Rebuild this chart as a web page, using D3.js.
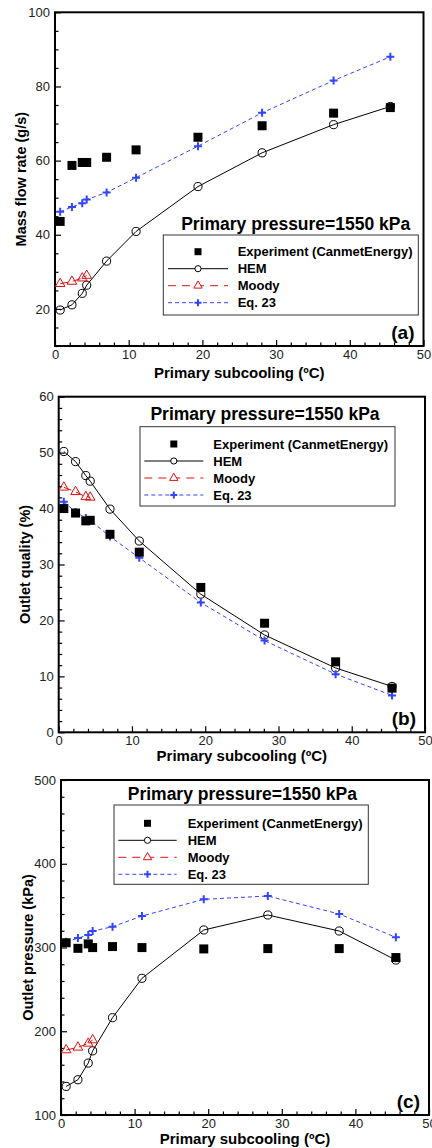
<!DOCTYPE html>
<html>
<head>
<meta charset="utf-8">
<script src="https://cdn.jsdelivr.net/npm/d3@7"></script>
<style>
  body { margin: 0; background: #fff; }
  svg text { font-family: "Liberation Sans", Arial, sans-serif; }
</style>
</head>
<body>
<svg id="chart" width="432" height="1148"></svg>
<script>
// Primary subcooling (ºC) of the test points
const subcooling = [0.7, 2.3, 3.7, 4.3, 7.0, 11.0, 19.4, 28.1, 37.8, 45.5];
const moodySubcooling = [0.7, 2.3, 3.7, 4.3];

// (a) Mass flow rate (g/s)
const flowExp   = [43.6, 58.7, 59.5, 59.5, 60.9, 62.9, 66.3, 69.4, 72.8, 74.3];
const flowHem   = [19.7, 21.1, 24.2, 26.4, 32.9, 40.9, 53.0, 62.1, 69.7, 74.6];
const flowMoody = [26.8, 27.4, 28.3, 29.0];
const flowEq23  = [46.2, 47.5, 48.5, 49.5, 51.4, 55.4, 63.9, 72.9, 81.6, 88.0];

// (b) Outlet quality (%)
const qualExp   = [40.0, 39.2, 37.8, 37.9, 35.4, 32.2, 25.9, 19.5, 12.6, 7.9];
const qualHem   = [50.2, 48.4, 45.9, 44.9, 39.9, 34.2, 24.7, 17.4, 11.5, 8.2];
const qualMoody = [43.8, 43.0, 42.1, 42.0];
const qualEq23  = [41.2, 39.4, 38.3, 37.9, 35.0, 31.2, 23.2, 16.4, 10.4, 6.6];

// (c) Outlet pressure (kPa)
const presExp   = [305.7, 299, 304.3, 299.9, 301.1, 299.9, 298.3, 298.7, 298.7, 288];
const presHem   = [134.1, 142.1, 162.0, 176.6, 216.2, 263.2, 320.9, 338.8, 319.7, 285];
const presMoody = [177.6, 180.8, 185.5, 189.5];
const presEq23  = [306.8, 311.2, 314.8, 319.6, 324.8, 337.6, 357.5, 361.5, 340.0, 312.2];

const legendNames = ['Experiment (CanmetEnergy)', 'HEM', 'Moody', 'Eq. 23'];
const titleText = 'Primary pressure=1550 kPa';
const xTitle = 'Primary subcooling (ºC)';

const blue = '#3344ff';
const red = '#dd1111';

const svg = d3.select('#chart');

const panels = [
  {
    left: 55, right: 423.5, top: 12.3, bottom: 346,
    yDomain: [10, 100], yMajor: d3.range(20, 101, 20), yMinor: d3.range(10, 101, 5),
    yTitle: 'Mass flow rate (g/s)', yTitleX: 21,
    tag: '(a)', exp: flowExp, hem: flowHem, moody: flowMoody, eq: flowEq23,
    title: { x: 295.7, y: 223.5 },
    legend: { x: 163.3, y: 235, w: 255, h: 80, textX: 237.7, lineX0: 168, lineX1: 228, rowY: 251.7 },
    xTitleY: 372
  },
  {
    left: 58.7, right: 425, top: 396.7, bottom: 732.3,
    yDomain: [0, 60], yMajor: d3.range(0, 61, 10), yMinor: d3.range(0, 61, 2),
    yTitle: 'Outlet quality (%)', yTitleX: 25,
    tag: '(b)', exp: qualExp, hem: qualHem, moody: qualMoody, eq: qualEq23,
    title: { x: 265, y: 413.5 },
    legend: { x: 140, y: 426.7, w: 255, h: 79.3, textX: 213.3, lineX0: 144.3, lineX1: 203.3, rowY: 444 },
    xTitleY: 755
  },
  {
    left: 61, right: 429, top: 780, bottom: 1115,
    yDomain: [100, 500], yMajor: d3.range(100, 501, 100), yMinor: d3.range(100, 501, 20),
    yTitle: 'Outlet pressure (kPa)', yTitleX: 27.5,
    tag: '(c)', exp: presExp, hem: presHem, moody: presMoody, eq: presEq23,
    title: { x: 242.3, y: 793.5 },
    legend: { x: 114, y: 805, w: 254.3, h: 79.3, textX: 187.7, lineX0: 118.3, lineX1: 176.7, rowY: 823.3 },
    xTitleY: 1138.5
  }
];

const squareSym = d3.symbol().type(d3.symbolSquare);
const circleSym = d3.symbol().type(d3.symbolCircle);
const triSym = d3.symbol().type(d3.symbolTriangle);
const plusPath = (s) => `M${-s},0H${s}M0,${-s}V${s}`;

function drawPanel(p) {
  const x = d3.scaleLinear().domain([0, 50]).range([p.left, p.right]);
  const y = d3.scaleLinear().domain(p.yDomain).range([p.bottom, p.top]);
  const g = svg.append('g');

  // Axes with inward ticks
  const xMajor = d3.range(0, 51, 10);
  const xMinor = d3.range(0, 51, 2).filter(v => v % 10 !== 0);

  g.append('g')
    .attr('transform', `translate(0,${p.bottom})`)
    .call(d3.axisBottom(x).tickValues(xMajor).tickSize(-6).tickSizeOuter(0).tickPadding(3.5));
  g.append('g')
    .attr('transform', `translate(0,${p.bottom})`)
    .call(d3.axisBottom(x).tickValues(xMinor).tickSize(-3.5).tickFormat('').tickSizeOuter(0));

  const yMinor = p.yMinor.filter(v => !p.yMajor.includes(v));
  g.append('g')
    .attr('transform', `translate(${p.left},0)`)
    .call(d3.axisLeft(y).tickValues(p.yMajor).tickSize(-6).tickSizeOuter(0).tickPadding(5));
  g.append('g')
    .attr('transform', `translate(${p.left},0)`)
    .call(d3.axisLeft(y).tickValues(yMinor).tickSize(-3.5).tickFormat('').tickSizeOuter(0));

  g.selectAll('.domain').remove();
  g.selectAll('.tick line').attr('stroke', '#000').attr('stroke-width', 1.2);
  g.selectAll('.tick text')
    .attr('fill', '#222')
    .style('font-size', '13px');

  // Frame
  g.append('rect')
    .attr('x', p.left).attr('y', p.top)
    .attr('width', p.right - p.left).attr('height', p.bottom - p.top)
    .attr('fill', 'none').attr('stroke', '#000').attr('stroke-width', 2);

  const line = d3.line().x((d) => x(d[0])).y((d) => y(d[1]));
  const pairs = (xs, ys) => xs.map((v, i) => [v, ys[i]]);

  const hemData = pairs(subcooling, p.hem);
  const moodyData = pairs(moodySubcooling, p.moody);
  const eqData = pairs(subcooling, p.eq);
  const expData = pairs(subcooling, p.exp);

  // Lines
  g.append('path').attr('d', line(eqData))
    .attr('fill', 'none').attr('stroke', blue).attr('stroke-width', 1).attr('stroke-dasharray', '4,3');
  g.append('path').attr('d', line(moodyData))
    .attr('fill', 'none').attr('stroke', red).attr('stroke-width', 1).attr('stroke-dasharray', '8,5');
  g.append('path').attr('d', line(hemData))
    .attr('fill', 'none').attr('stroke', '#000').attr('stroke-width', 1);

  // Markers
  g.selectAll('path.hem').data(hemData).enter().append('path')
    .attr('class', 'hem')
    .attr('d', circleSym.size(52)())
    .attr('transform', (d) => `translate(${x(d[0])},${y(d[1])})`)
    .attr('fill', 'none').attr('stroke', '#000').attr('stroke-width', 1);

  g.selectAll('path.moody').data(moodyData).enter().append('path')
    .attr('class', 'moody')
    .attr('d', triSym.size(40)())
    .attr('transform', (d) => `translate(${x(d[0])},${y(d[1])})`)
    .attr('fill', 'none').attr('stroke', red).attr('stroke-width', 1);

  g.selectAll('path.eq').data(eqData).enter().append('path')
    .attr('class', 'eq')
    .attr('d', plusPath(4))
    .attr('transform', (d) => `translate(${x(d[0])},${y(d[1])})`)
    .attr('fill', 'none').attr('stroke', blue).attr('stroke-width', 2);

  g.selectAll('path.exp').data(expData).enter().append('path')
    .attr('class', 'exp')
    .attr('d', squareSym.size(81)())
    .attr('transform', (d) => `translate(${x(d[0])},${y(d[1])})`)
    .attr('fill', '#000');

  // Title
  g.append('text')
    .attr('x', p.title.x).attr('y', p.title.y)
    .attr('text-anchor', 'middle').attr('dominant-baseline', 'central')
    .style('font-size', '17.5px').style('font-weight', 'bold')
    .text(titleText);

  // Legend
  const L = p.legend;
  const lg = g.append('g');
  lg.append('rect')
    .attr('x', L.x).attr('y', L.y).attr('width', L.w).attr('height', L.h)
    .attr('fill', '#fff').attr('stroke', '#333').attr('stroke-width', 1);
  const rowStep = 17;
  const midX = (L.lineX0 + L.lineX1) / 2;
  legendNames.forEach((name, i) => {
    const ry = L.rowY + i * rowStep;
    if (i === 0) {
      lg.append('path').attr('d', squareSym.size(49)())
        .attr('transform', `translate(${midX},${ry})`).attr('fill', '#000');
    } else if (i === 1) {
      lg.append('line').attr('x1', L.lineX0).attr('x2', L.lineX1).attr('y1', ry).attr('y2', ry)
        .attr('stroke', '#000').attr('stroke-width', 1);
      lg.append('path').attr('d', circleSym.size(30)())
        .attr('transform', `translate(${midX},${ry})`)
        .attr('fill', '#fff').attr('stroke', '#000');
    } else if (i === 2) {
      lg.append('line').attr('x1', L.lineX0).attr('x2', L.lineX1).attr('y1', ry).attr('y2', ry)
        .attr('stroke', red).attr('stroke-width', 1).attr('stroke-dasharray', '8,6');
      lg.append('path').attr('d', triSym.size(30)())
        .attr('transform', `translate(${midX},${ry})`)
        .attr('fill', '#fff').attr('stroke', red);
    } else {
      lg.append('line').attr('x1', L.lineX0).attr('x2', L.lineX1).attr('y1', ry).attr('y2', ry)
        .attr('stroke', blue).attr('stroke-width', 1).attr('stroke-dasharray', '4,3');
      lg.append('path').attr('d', plusPath(3.5))
        .attr('transform', `translate(${midX},${ry})`)
        .attr('stroke', blue).attr('stroke-width', 2);
    }
    lg.append('text')
      .attr('x', L.textX).attr('y', ry)
      .attr('dominant-baseline', 'central')
      .style('font-size', '13px').style('font-weight', 'bold')
      .text(name);
  });

  // Panel tag
  g.append('text')
    .attr('x', p.right - 9).attr('y', p.bottom - 14)
    .attr('text-anchor', 'end').attr('dominant-baseline', 'central')
    .style('font-size', '19px').style('font-weight', 'bold')
    .text(p.tag);

  // Axis titles
  g.append('text')
    .attr('x', (p.left + p.right) / 2).attr('y', p.xTitleY)
    .attr('text-anchor', 'middle').attr('dominant-baseline', 'central')
    .style('font-size', '15px').style('font-weight', 'bold')
    .text(xTitle);
  g.append('text')
    .attr('transform', `translate(${p.yTitleX},${(p.top + p.bottom) / 2}) rotate(-90)`)
    .attr('text-anchor', 'middle').attr('dominant-baseline', 'central')
    .style('font-size', '14.5px').style('font-weight', 'bold')
    .text(p.yTitle);
}

panels.forEach(drawPanel);
</script>
</body>
</html>
